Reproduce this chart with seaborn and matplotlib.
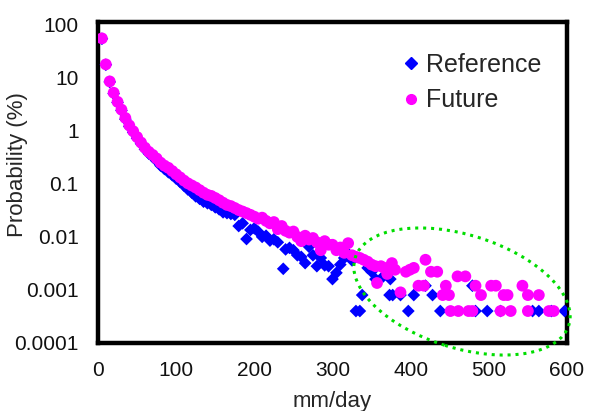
import numpy as np
import pandas as pd
import matplotlib
matplotlib.use("Agg")
import matplotlib.pyplot as plt
from matplotlib.patches import Ellipse
from matplotlib.lines import Line2D
import seaborn as sns

# ---------------- data ----------------
ref_x = [5, 10, 15, 20, 25, 30, 35, 40, 45, 50, 55, 60, 65, 70, 75, 80, 85, 90, 95, 100,
         105, 110, 115, 120, 125, 130, 135, 140, 145, 150, 155, 160, 165, 170, 175, 180,
         185, 190, 195, 200, 205, 210, 215, 220, 225, 230, 237, 240, 245, 250, 255, 260,
         265, 270, 275, 280, 285, 290, 295, 300, 305, 310, 315, 320, 325,
         330, 335, 338, 345, 350, 355, 365, 374, 373, 377, 387, 397, 404, 419, 428, 438,
         479, 483, 498, 515, 556, 564, 580, 597]
ref_p = [54, 17.5, 8.3, 5.0, 3.4, 2.4, 1.65, 1.2, 0.93, 0.72, 0.57, 0.45, 0.37, 0.32, 0.27,
         0.22, 0.19, 0.165, 0.145, 0.125, 0.108, 0.092, 0.078, 0.068, 0.058, 0.052, 0.046,
         0.043, 0.040, 0.036, 0.033, 0.029, 0.028, 0.027, 0.026, 0.016, 0.018, 0.0091,
         0.0135, 0.0145, 0.0125, 0.010, 0.0105, 0.0085, 0.0090, 0.0079, 0.0025, 0.0058,
         0.0062, 0.0056, 0.0045, 0.0042, 0.0032, 0.0065, 0.0045, 0.0028, 0.0040, 0.0029,
         0.0028, 0.0016, 0.0021, 0.0030, 0.0040, 0.0048, 0.0036,
         0.0004, 0.0004, 0.0008, 0.0026, 0.0022, 0.0016, 0.0018, 0.0016, 0.0008, 0.0008,
         0.0008, 0.0004, 0.0008, 0.0012, 0.0008, 0.0004,
         0.0012, 0.0004, 0.0004, 0.0004, 0.0004, 0.0004, 0.0004, 0.0004]

fut_x = [5, 10, 15, 20, 25, 30, 35, 40, 45, 50, 55, 60, 65, 70, 75, 80, 85, 90, 95, 100,
         105, 110, 115, 120, 125, 130, 135, 140, 145, 150, 155, 160, 165, 170, 175, 180,
         185, 190, 195, 200, 205, 210, 215, 220, 225, 230, 235, 240, 245, 250, 255, 260,
         265, 270, 275, 280, 285, 290, 295, 300, 305, 310, 315, 320, 325, 330,
         335, 340, 345, 350, 355, 357, 362, 366, 370, 376, 380, 387, 394, 399, 404, 410,
         417, 419, 426, 434, 441, 445, 449, 451, 460, 461, 470, 474, 479, 483, 490, 503,
         509, 515, 519, 524, 528, 543, 550, 550, 564, 577, 583]
fut_p = [55, 17.8, 8.5, 5.2, 3.5, 2.5, 1.74, 1.26, 0.98, 0.76, 0.60, 0.48, 0.40, 0.35,
         0.30, 0.25, 0.22, 0.20, 0.174, 0.151, 0.132, 0.115, 0.102, 0.093, 0.085, 0.076,
         0.068, 0.062, 0.059, 0.054, 0.049, 0.044, 0.040, 0.038, 0.035, 0.032, 0.030,
         0.028, 0.026, 0.024, 0.022, 0.023, 0.020, 0.018, 0.019, 0.014, 0.016, 0.013,
         0.012, 0.0126, 0.010, 0.0083, 0.0105, 0.0089, 0.0095, 0.0079, 0.0056, 0.0083,
         0.0071, 0.0071, 0.0056, 0.0063, 0.0050, 0.0076, 0.0045, 0.0042,
         0.0040, 0.0037, 0.0034, 0.0030, 0.0028, 0.00135, 0.0028, 0.0026, 0.0020, 0.0032,
         0.0024, 0.0009, 0.0022, 0.0024, 0.0026, 0.0012, 0.0012, 0.0037, 0.0022, 0.0022,
         0.0008, 0.0012, 0.0008, 0.0004, 0.0018, 0.0004, 0.0018, 0.0004, 0.0004, 0.0012,
         0.0008, 0.0012, 0.0012, 0.0004, 0.0008, 0.0008, 0.0004, 0.0012, 0.0004, 0.0008,
         0.0008, 0.0004, 0.0004]

x_ticks = [0, 100, 200, 300, 400, 500, 600]
y_ticks = [100, 10, 1, 0.1, 0.01, 0.001, 0.0001]
y_tick_labels = ["100", "10", "1", "0.1", "0.01", "0.001", "0.0001"]
series_names = ["Reference", "Future"]

# ---------------- plotting ----------------
sns.set_style("white")
plt.rcParams['font.family'] = ['Liberation Sans', 'DejaVu Sans']

fig = plt.figure(figsize=(5.89, 4.11), dpi=100)
ax = fig.add_axes([0.1664, 0.1655, 0.7962, 0.781])

df_ref = pd.DataFrame({"x": ref_x, "p": ref_p})
df_fut = pd.DataFrame({"x": fut_x, "p": fut_p})

sns.scatterplot(data=df_ref, x="x", y="p", ax=ax, marker="D", s=42,
                color="#0000FF", edgecolor="none", linewidth=0, zorder=3)
sns.scatterplot(data=df_fut, x="x", y="p", ax=ax, marker="o", s=72,
                color="#FF00FF", edgecolor="none", linewidth=0, zorder=4)

ax.set_yscale("log")
ax.set_xlim(0, 600)
ax.set_ylim(1e-4, 112)
ax.set_xticks(x_ticks)
ax.set_xticklabels([str(v) for v in x_ticks])
ax.set_yticks(y_ticks)
ax.set_yticklabels(y_tick_labels)
ax.minorticks_off()
ax.tick_params(axis="both", length=0, labelsize=15, colors="#111111")
ax.tick_params(axis="y", pad=14)
ax.tick_params(axis="x", pad=13)

ax.set_xlabel("mm/day", fontsize=16)
ax.xaxis.set_label_coords(0.5, -0.15)
ax.set_ylabel("Probability (%)", fontsize=16)
ax.yaxis.set_label_coords(-0.149, 0.557)

for sp in ax.spines.values():
    sp.set_visible(True)
    sp.set_color("black")
    sp.set_linewidth(3.2)

# green dotted ellipse (figure-inch coordinates, isotropic)
ell = Ellipse((4.62, 1.195), 2.24, 1.13, angle=-17.5, transform=fig.dpi_scale_trans,
              fill=False, edgecolor="#00DD00", linestyle=(0, (1, 1.6)), linewidth=2.2,
              clip_on=False, zorder=5)
fig.add_artist(ell)

handles = [Line2D([], [], marker="D", linestyle="none", color="#0000FF", markersize=6),
           Line2D([], [], marker="o", linestyle="none", color="#FF00FF", markersize=7)]
ax.legend(handles, series_names, loc="upper right", bbox_to_anchor=(0.978, 0.95),
          frameon=False, fontsize=18, handletextpad=0.1, handlelength=1.0,
          labelspacing=0.45, borderaxespad=0.2)

fig.savefig("out.png", dpi=100)
